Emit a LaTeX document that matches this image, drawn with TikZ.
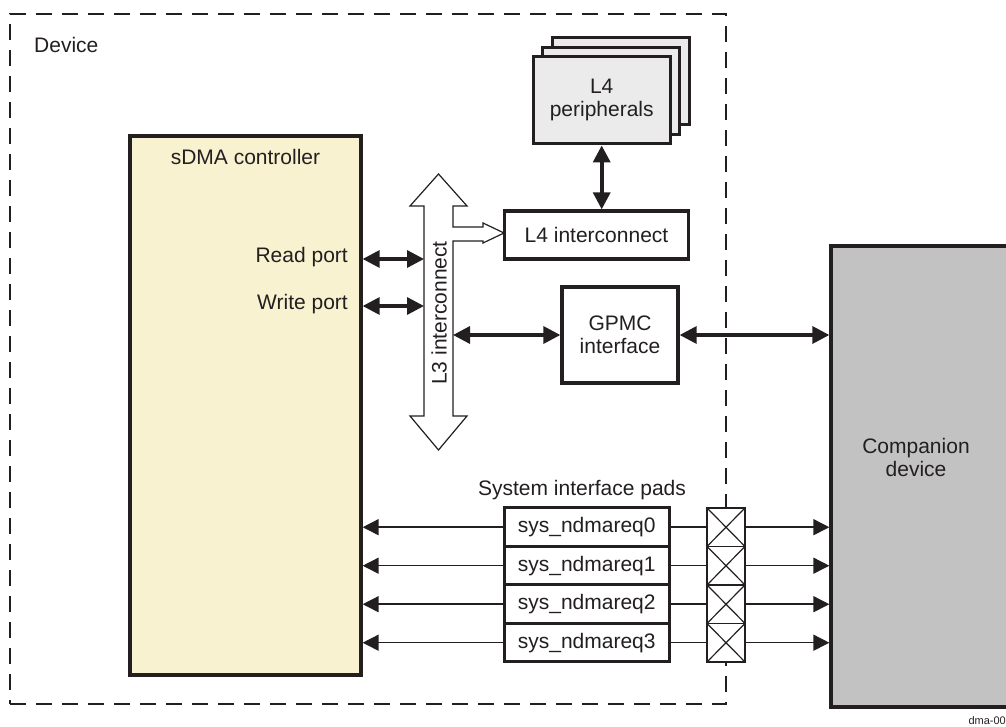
\documentclass[tikz,border=0pt]{standalone}
\usepackage{fontspec}
\setmainfont{Liberation Sans}
\usetikzlibrary{arrows.meta,positioning,shadows}
\definecolor{ink}{HTML}{231F20}
\definecolor{sdmayellow}{HTML}{F8F2D0}
\definecolor{perigray}{HTML}{EBEBEB}
\definecolor{compgray}{HTML}{C2C2C2}

\begin{document}
\begin{tikzpicture}[x=1pt,y=-1pt,font=\fontsize{21}{23}\selectfont,
  box/.style={draw=ink,line width=3.3pt,fill=white,align=center,inner sep=0pt,text=ink},
  devbox/.style={draw=ink,line width=2.6pt,dash pattern=on 16pt off 10pt},
  pad/.style={box,line width=3pt,minimum width=165pt,minimum height=38.5pt},
  xpad/.style={draw=ink,line width=1.2pt,fill=white,inner sep=0pt,
    minimum width=38pt,minimum height=38.5pt,
    path picture={\draw[ink,line width=1.2pt]
      (path picture bounding box.north west) -- (path picture bounding box.south east)
      (path picture bounding box.south west) -- (path picture bounding box.north east);}},
  lbl/.style={text=ink,align=center,inner sep=0pt},
  bus/.style={{Triangle[length=17pt,width=17pt]}-{Triangle[length=17pt,width=17pt]},
    line width=3.3pt,draw=ink},
  sig/.style={-{Triangle[length=16pt,width=16pt]},line width=1.5pt,draw=ink}]

  \useasboundingbox (0,0) rectangle (1006,727);

  \node[devbox,minimum width=716pt,minimum height=690pt] (device) at (368,359) {};
  \node[lbl,anchor=west] (devlbl) at (34,45) {Device};

  \node[box,fill=sdmayellow,minimum width=231pt,minimum height=539pt] (ctrl) at (245.5,405.5) {};
  \node[lbl] (ctrltitle) at (245.5,157) {sDMA controller};
  \node[lbl,anchor=base east] (rdport) at (348,262.5) {Read port};
  \node[lbl,anchor=base east] (wrport) at (348,309.5) {Write port};

  \node[box,fill=perigray,minimum width=137pt,minimum height=87pt,
    copy shadow={shadow xshift=19pt,shadow yshift=19pt},
    copy shadow={shadow xshift=9.5pt,shadow yshift=9.5pt}] (l4per) at (601.7,100.3)
    {L4\\peripherals};
  \node[box,minimum width=184pt,minimum height=48pt] (l4ic) at (596.5,235) {L4 interconnect};
  \node[box,minimum width=116pt,minimum height=96pt] (gpmc) at (620,335) {GPMC\\interface};
  \node[box,fill=compgray,minimum width=200pt,minimum height=461pt] (comp) at (931,476.5) {};
  \node[lbl] (complbl) at (916,457) {Companion\\device};

  % L3 interconnect bus
  \draw[draw=ink,line width=1.2pt,fill=white]
    (438.5,174) -- (467,206) -- (453,206) -- (453,227) -- (483,227) -- (483,223)
    -- (504,233) -- (483,243) -- (483,241) -- (453,241) -- (453,416) -- (467,416)
    -- (438.5,450) -- (410,416) -- (424,416) -- (424,206) -- (410,206) -- cycle;
  \node[lbl,rotate=90] (l3lbl) at (439,313) {L3 interconnect};
  \coordinate (rdtap) at (424,259);
  \coordinate (wrtap) at (424,306);
  \coordinate (gptap) at (453,335);

  \draw[bus] (rdtap -| ctrl.east) -- (rdtap);
  \draw[bus] (wrtap -| ctrl.east) -- (wrtap);
  \draw[bus] (gptap) -- (gpmc.west);
  \draw[bus] (gpmc.east) -- (gpmc.east -| comp.west);
  \draw[bus,line width=3.6pt] (l4per.south) -- (l4per.south |- l4ic.north);

  % system interface pads
  \node[lbl] (padtitle) at (582,490) {System interface pads};
  \node[pad] (pad0) at (586.7,527.2) {sys\_ndmareq0};
  \node[pad] (pad1) at (586.7,565.7) {sys\_ndmareq1};
  \node[pad] (pad2) at (586.7,604.2) {sys\_ndmareq2};
  \node[pad] (pad3) at (586.7,642.7) {sys\_ndmareq3};
  \node[xpad] (xp0) at (726,527.2) {};
  \node[xpad] (xp1) at (726,565.7) {};
  \node[xpad] (xp2) at (726,604.2) {};
  \node[xpad] (xp3) at (726,642.7) {};

  \draw[sig] (pad0.west) -- (pad0.west -| ctrl.east);
  \draw[sig] (pad1.west) -- (pad1.west -| ctrl.east);
  \draw[sig] (pad2.west) -- (pad2.west -| ctrl.east);
  \draw[sig] (pad3.west) -- (pad3.west -| ctrl.east);
  \draw[ink,line width=1.5pt] (pad0.east) -- (xp0.west);
  \draw[ink,line width=1.5pt] (pad1.east) -- (xp1.west);
  \draw[ink,line width=1.5pt] (pad2.east) -- (xp2.west);
  \draw[ink,line width=1.5pt] (pad3.east) -- (xp3.west);
  \draw[sig] (xp0.east) -- (xp0.east -| comp.west);
  \draw[sig] (xp1.east) -- (xp1.east -| comp.west);
  \draw[sig] (xp2.east) -- (xp2.east -| comp.west);
  \draw[sig] (xp3.east) -- (xp3.east -| comp.west);

  \node[lbl,anchor=east,font=\fontsize{11}{12}\selectfont] (figid) at (1006,721) {dma-00};
\end{tikzpicture}
\end{document}
